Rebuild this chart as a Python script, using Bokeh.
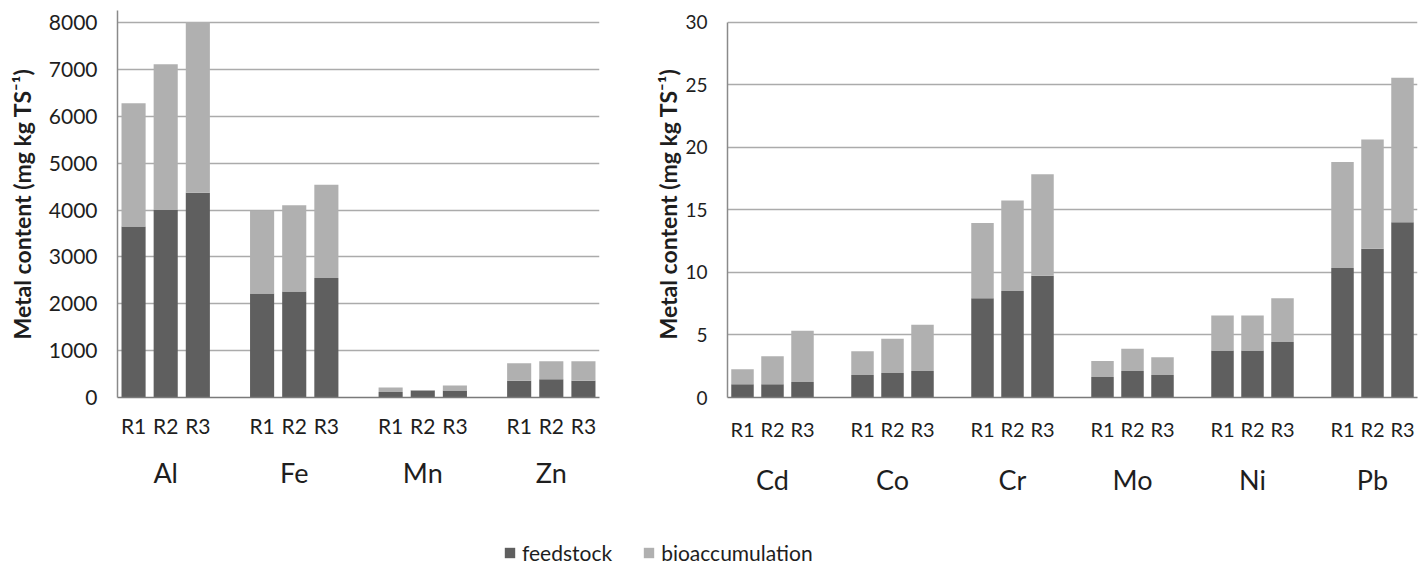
from bokeh.plotting import figure
from bokeh.models import FactorRange, Range1d, ColumnDataSource, Legend, LegendItem, NumeralTickFormatter
from bokeh.layouts import column, row
from bokeh.embed import file_html
from bokeh.resources import INLINE

# ---------------- data ----------------
runs = ["R1", "R2", "R3"]
series = ["feedstock", "bioaccumulation"]

major_metals = ["Al", "Fe", "Mn", "Zn"]
major_feedstock = [3650, 4000, 4370, 2220, 2260, 2550, 115, 150, 150, 360, 390, 360]
major_bioaccumulation = [2630, 3110, 3640, 1760, 1840, 1990, 100, 10, 105, 370, 385, 415]
major_ticks = [0, 1000, 2000, 3000, 4000, 5000, 6000, 7000, 8000]

trace_metals = ["Cd", "Co", "Cr", "Mo", "Ni", "Pb"]
trace_feedstock = [1.06, 1.06, 1.24, 1.80, 1.96, 2.12, 7.93, 8.51, 9.73,
                   1.64, 2.12, 1.80, 3.75, 3.75, 4.44, 10.36, 11.90, 14.01]
trace_bioaccumulation = [1.19, 2.24, 4.10, 1.90, 2.74, 3.70, 6.03, 7.24, 8.11,
                         1.27, 1.77, 1.42, 2.81, 2.81, 3.49, 8.46, 8.72, 11.55]
trace_ticks = [0, 5, 10, 15, 20, 25, 30]

y_label = "Metal content (mg kg TS\u207b\u00b9)"

# ---------------- style ----------------
COLORS = ["#5f5f5f", "#b0b0b0"]
FONT = "Lato"
TEXT = "#1e1e1e"
H = 505
FRAME_TOP = 10
FRAME_BOTTOM = 397


def panel(metals, feed, bio, ticks, y_end, y_bounds, width, bl, br,
          tick_size, label_standoff, x_size, x_standoff):
    factors = [(m, r) for m in metals for r in runs]
    src = ColumnDataSource(dict(x=factors, feedstock=feed, bioaccumulation=bio))
    p = figure(x_range=FactorRange(*factors, factor_padding=0.0, group_padding=1.0,
                                   range_padding=0.0),
               y_range=Range1d(0, y_end), width=width, height=H,
               output_backend="svg", toolbar_location=None,
               min_border_left=bl, min_border_right=br,
               min_border_top=FRAME_TOP, min_border_bottom=H - FRAME_BOTTOM)
    p.vbar_stack(series, x="x", width=0.75, source=src,
                 fill_color=COLORS, line_color=None)
    p.outline_line_color = None
    p.xgrid.visible = False
    p.ygrid.grid_line_color = "#ababab"
    p.ygrid.grid_line_width = 1.5

    p.yaxis.ticker = ticks
    p.yaxis.bounds = y_bounds
    p.yaxis.formatter = NumeralTickFormatter(format="0")
    p.yaxis.axis_line_color = "#8a8a8a"
    p.yaxis.axis_line_width = 1.5
    p.yaxis.major_tick_line_color = None
    p.yaxis.minor_tick_line_color = None
    p.yaxis.major_tick_out = 0
    p.yaxis.minor_tick_out = 0
    p.yaxis.major_label_standoff = 20
    p.yaxis.major_label_text_font = FONT
    p.yaxis.major_label_text_font_size = tick_size
    p.yaxis.major_label_text_color = TEXT
    p.yaxis.axis_label = y_label
    p.yaxis.axis_label_text_font = FONT
    p.yaxis.axis_label_text_font_style = "bold"
    p.yaxis.axis_label_text_font_size = "23px"
    p.yaxis.axis_label_text_color = TEXT
    p.yaxis.axis_label_standoff = label_standoff

    p.xaxis.axis_line_color = "#7a7a7a"
    p.xaxis.axis_line_width = 1.5
    p.xaxis.major_tick_line_color = None
    p.xaxis.minor_tick_line_color = None
    p.xaxis.major_tick_out = 0
    p.xaxis.minor_tick_out = 0
    p.xaxis.separator_line_color = None
    p.xaxis.major_label_standoff = x_standoff
    p.xaxis.major_label_text_font = FONT
    p.xaxis.major_label_text_font_size = x_size
    p.xaxis.major_label_text_color = TEXT
    p.xaxis.group_text_font = FONT
    p.xaxis.group_text_font_size = "27px"
    p.xaxis.group_text_color = TEXT
    p.xaxis.group_text_font_style = "normal"
    return p


p1 = panel(major_metals, major_feedstock, major_bioaccumulation, major_ticks,
           8256, (0, 8256), 640, 117, 41, "21px", 10, "21px", 15)
p2 = panel(trace_metals, trace_feedstock, trace_bioaccumulation, trace_ticks,
           30.94, (0, 30), 785, 87, 8, "19px", 0, "20px", 19)

# legend strip
p3 = figure(width=1425, height=565 - H, x_range=Range1d(0, 1), y_range=Range1d(0, 1),
            output_backend="svg", toolbar_location=None,
            x_axis_location=None, y_axis_location=None,
            min_border_left=0, min_border_right=0, min_border_top=0, min_border_bottom=0)
p3.grid.visible = False
p3.outline_line_color = None
dummies = [p3.vbar(x=[5], top=[1], width=0.1, fill_color=c, line_color=None) for c in COLORS]
legend = Legend(items=[LegendItem(label=s, renderers=[r]) for s, r in zip(series, dummies)],
                orientation="horizontal", location=(503, 0),
                glyph_width=13, glyph_height=13, label_standoff=6, spacing=30,
                padding=0, margin=0, border_line_color=None, background_fill_alpha=0,
                label_text_font=FONT, label_text_font_size="21px", label_text_color=TEXT)
p3.add_layout(legend, "center")

layout = column(row(p1, p2), p3)
open("out.html", "w").write(file_html(layout, INLINE))
